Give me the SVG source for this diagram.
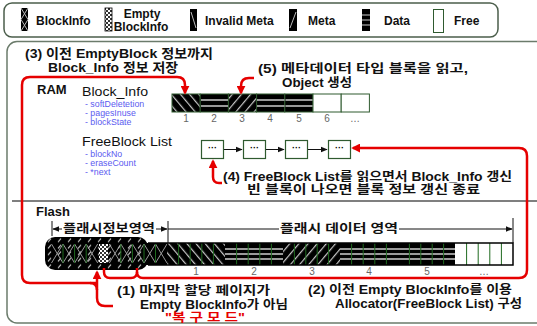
<svg xmlns="http://www.w3.org/2000/svg" width="537" height="326" viewBox="0 0 537 326">
<style>
text { font-family: "Liberation Sans", "Noto Sans CJK KR", sans-serif; }
.ann { font-size: 13px; font-weight: bold; fill: #111; }
.ann12 { font-size: 12px; font-weight: bold; fill: #111; }
.leg { font-size: 12px; font-weight: bold; fill: #111; }
.hd { font-size: 13px; font-weight: bold; fill: #111; }
.ttl { font-size: 13.5px; fill: #111; }
.sub { font-size: 8.8px; fill: #5b5bf0; }
.num { font-size: 10px; fill: #666; text-anchor: middle; }
.red { fill: none; stroke: #e60000; stroke-width: 2.5; }
.cell { stroke: #2f5a2f; stroke-width: 1; }
.pg { stroke: #1f6a1f; stroke-width: 1; }
.dl { stroke: #111; stroke-width: 1; fill: none; }
.box { fill: #fff; stroke: #2f5a2f; stroke-width: 1.2; }
</style>
<defs>
<marker id="ar" viewBox="0 0 10 10" refX="8" refY="5" markerWidth="3.6" markerHeight="3.6" orient="auto" markerUnits="strokeWidth">
<path d="M0,0 L10,5 L0,10 Z" fill="#e60000"/>
</marker>
<marker id="ab" viewBox="0 0 10 10" refX="9" refY="5" markerWidth="7" markerHeight="7" orient="auto" markerUnits="userSpaceOnUse">
<path d="M0,1 L10,5 L0,9 Z" fill="#111"/>
</marker>
<pattern id="pInv" width="7" height="7" patternUnits="userSpaceOnUse" patternTransform="rotate(-40)">
<rect width="7" height="7" fill="#000"/>
<rect x="0" width="1.2" height="7" fill="#c8c8c8"/>
</pattern>
<pattern id="pMeta" width="7" height="7" patternUnits="userSpaceOnUse" patternTransform="rotate(40)">
<rect width="7" height="7" fill="#000"/>
<rect x="0" width="1.2" height="7" fill="#c8c8c8"/>
</pattern>
<pattern id="pChk" width="4" height="4" patternUnits="userSpaceOnUse">
<rect width="4" height="4" fill="#fff"/>
<rect width="2" height="2" fill="#333"/>
<rect x="2" y="2" width="2" height="2" fill="#333"/>
</pattern>
<pattern id="pTick" width="10" height="6.5" patternUnits="userSpaceOnUse" x="45" y="237">
<rect width="10" height="6.5" fill="#000"/>
<line x1="3" y1="5" x2="6" y2="1.5" stroke="#ddd" stroke-width="1"/>
</pattern>
</defs>

<!-- legend -->
<g id="legend">
<rect x="4" y="3" width="494" height="34" rx="8" fill="#fff" stroke="#4b5e4b" stroke-width="1.5"/>
<g id="leg-blockinfo">
<rect x="21" y="8" width="7" height="23" fill="#000"/>
<path d="M21,8 L28,19.5 M28,8 L21,19.5 M21,19.5 L28,31 M28,19.5 L21,31" stroke="#bbb" stroke-width="1"/>
<text x="36" y="25" class="leg">BlockInfo</text>
</g>
<g id="leg-empty">
<rect x="105" y="8" width="7" height="23" fill="url(#pChk)" stroke="#000" stroke-width="0.8"/>
<text x="142" y="18" class="leg" text-anchor="middle">Empty</text>
<text x="141" y="31" class="leg" text-anchor="middle">BlockInfo</text>
</g>
<g id="leg-invalid">
<rect x="190" y="9" width="7" height="22" fill="#000"/>
<path d="M191,12 L196,28" stroke="#bbb" stroke-width="1"/>
<text x="205" y="25" class="leg">Invalid Meta</text>
</g>
<g id="leg-meta">
<rect x="289" y="9" width="8" height="22" fill="#000"/>
<path d="M296,12 L290,28" stroke="#bbb" stroke-width="1"/>
<text x="308" y="25" class="leg">Meta</text>
</g>
<g id="leg-data">
<rect x="362" y="9" width="8" height="22" fill="#000"/>
<path d="M362,15 H370 M362,20 H370 M362,25 H370" stroke="#ccc" stroke-width="1"/>
<text x="384" y="25" class="leg">Data</text>
</g>
<g id="leg-free">
<rect x="433.5" y="9.5" width="10" height="23" fill="#fff" stroke="#2f5a2f" stroke-width="1"/>
<text x="454" y="25" class="leg">Free</text>
</g>
</g>

<!-- main frame -->
<g id="frame">
<rect x="7" y="41.5" width="540" height="281.5" rx="10" fill="none" stroke="#6b7b6b" stroke-width="1.5"/>
<line x1="12" y1="201" x2="537" y2="201" stroke="#555" stroke-width="1.5"/>
</g>

<!-- RAM -->
<g id="ram">
<text x="37" y="94" class="hd">RAM</text>
</g>
<g id="block-info">
<text x="82" y="96" class="ttl" textLength="66" lengthAdjust="spacingAndGlyphs">Block_Info</text>
<text x="85" y="107" class="sub">- softDeletetion</text>
<text x="85" y="116" class="sub">- pagesInuse</text>
<text x="85" y="125" class="sub">- blockState</text>
<g id="bi-cells">
<rect x="172" y="94" width="28.2" height="18" fill="url(#pInv)" class="cell"/>
<rect x="200.2" y="94" width="28.2" height="18" fill="#000" class="cell"/>
<rect x="228.4" y="94" width="28.2" height="18" fill="url(#pMeta)" class="cell"/>
<rect x="256.6" y="94" width="28.2" height="18" fill="#000" class="cell"/>
<rect x="284.8" y="94" width="28.2" height="18" fill="#000" class="cell"/>
<rect x="313" y="94" width="28.2" height="18" fill="#fff" class="cell"/>
<rect x="341.2" y="94" width="28.2" height="18" fill="#fff" class="cell"/>
<path d="M201,100 H228 M201,106 H228 M257,100 H284.5 M257,106 H284.5 M285.5,100 H312.5 M285.5,106 H312.5" stroke="#ccc" stroke-width="1.3"/>
</g>
<g id="bi-nums">
<text x="186" y="122" class="num">1</text>
<text x="214" y="122" class="num">2</text>
<text x="242" y="122" class="num">3</text>
<text x="270" y="122" class="num">4</text>
<text x="299" y="122" class="num">5</text>
<text x="327" y="122" class="num">6</text>
<text x="355" y="122" class="num">…</text>
</g>
</g>

<g id="freeblock-list">
<text x="82" y="146" class="ttl" textLength="90" lengthAdjust="spacingAndGlyphs">FreeBlock List</text>
<text x="85" y="157" class="sub">- blockNo</text>
<text x="85" y="166" class="sub">- eraseCount</text>
<text x="85" y="175" class="sub">- *next</text>
</g>
<g id="fb1"><rect x="201.5" y="140.5" width="22" height="18" class="box"/><text x="212.5" y="151" font-size="9" font-weight="bold" text-anchor="middle">···</text></g>
<g id="fb2"><rect x="243.5" y="140.5" width="22" height="18" class="box"/><text x="254.5" y="151" font-size="9" font-weight="bold" text-anchor="middle">···</text></g>
<g id="fb3"><rect x="285.5" y="140.5" width="22" height="18" class="box"/><text x="296.5" y="151" font-size="9" font-weight="bold" text-anchor="middle">···</text></g>
<g id="fb4"><rect x="328.5" y="140.5" width="22" height="18" class="box"/><text x="339.5" y="151" font-size="9" font-weight="bold" text-anchor="middle">···</text></g>

<!-- Flash -->
<g id="flash">
<text x="36" y="216" class="hd">Flash</text>
<g id="flash-info-region">
<rect x="45" y="237" width="103" height="33" rx="10" fill="url(#pTick)"/>
<rect x="145" y="243" width="22" height="22" fill="#000"/>
<g stroke="#aaa" stroke-width="0.9">
<path d="M51.5,244 L63,263 M63,244 L51.5,263"/>
<path d="M63,244 L74.6,263 M74.6,244 L63,263"/>
<path d="M74.6,244 L86.2,263 M86.2,244 L74.6,263"/>
<path d="M86.2,244 L97.7,263 M97.7,244 L86.2,263"/>
<path d="M109.3,244 L120.8,263 M120.8,244 L109.3,263"/>
<path d="M120.8,244 L132.4,263 M132.4,244 L120.8,263"/>
<path d="M132.4,244 L144,263 M144,244 L132.4,263"/>
<path d="M144,244 L155.5,263 M155.5,244 L144,263"/>
<path d="M155.5,244 L167,263 M167,244 L155.5,263"/>
</g>
<rect x="99" y="244" width="9" height="19" fill="url(#pChk)"/>
<path d="M63,244 V263 M74.6,244 V263 M86.2,244 V263 M120.8,244 V263 M132.4,244 V263 M144,244 V263 M155.5,244 V263" class="pg"/>
</g>
<g id="flash-blocks">
<rect x="167" y="243" width="58" height="22" fill="url(#pInv)"/>
<rect x="225" y="243" width="58" height="22" fill="#000"/>
<rect x="283" y="243" width="57" height="22" fill="url(#pMeta)"/>
<rect x="340" y="243" width="58" height="22" fill="#000"/>
<rect x="398" y="243" width="57" height="22" fill="#000"/>
<rect x="455" y="243" width="58" height="22" fill="#fff"/>
<path d="M225,249 H283 M225,254 H283 M225,259 H283 M340,249 H455 M340,254 H455 M340,259 H455" stroke="#ccc" stroke-width="1.4"/>
<path d="M178.6,243 V265 M190.2,243 V265 M201.8,243 V265 M213.4,243 V265 M236.6,243 V265 M248.2,243 V265 M259.8,243 V265 M271.4,243 V265 M294.4,243 V265 M305.8,243 V265 M317.2,243 V265 M328.6,243 V265 M351.6,243 V265 M363.2,243 V265 M374.8,243 V265 M386.4,243 V265 M409.4,243 V265 M420.8,243 V265 M432.2,243 V265 M443.6,243 V265 M466.6,243 V265 M478.2,243 V265 M489.8,243 V265 M501.4,243 V265" class="pg"/>
<path d="M148,243 H513 V265 H148" fill="none" stroke="#000" stroke-width="1.5"/>
</g>
<g id="flash-nums">
<text x="196" y="275" class="num">1</text>
<text x="254" y="275" class="num">2</text>
<text x="312" y="275" class="num">3</text>
<text x="369" y="275" class="num">4</text>
<text x="427" y="275" class="num">5</text>
<text x="484" y="275" class="num">…</text>
</g>
<g id="dims">
<path d="M52,221 V236 M168,221 V243 M513,218 V243" class="dl"/>
<path d="M62,229 H53" class="dl" marker-end="url(#ab)"/>
<path d="M156,229 H167" class="dl" marker-end="url(#ab)"/>
<path d="M168,229 H279" class="dl"/>
<path d="M399,229 H512" class="dl" marker-end="url(#ab)"/>
<text x="109" y="233" class="ann12" text-anchor="middle" textLength="92" lengthAdjust="spacingAndGlyphs">플래시정보영역</text>
<text x="339" y="233" class="ann12" text-anchor="middle" textLength="118" lengthAdjust="spacingAndGlyphs">플래시 데이터 영역</text>
</g>
</g>

<!-- connectors -->
<g id="connectors">
<path d="M224,149.5 H242" stroke="#111" stroke-width="1" marker-end="url(#ab)"/>
<path d="M266,149.5 H284" stroke="#111" stroke-width="1" marker-end="url(#ab)"/>
<path d="M308,149.5 H327" stroke="#111" stroke-width="1" marker-end="url(#ab)"/>
<path d="M97,283 H30 Q22,283 22,275 V85 Q22,77 30,77 H177 Q185,77 185,85 V93" class="red" marker-end="url(#ar)"/>
<path d="M113,306 H105 Q97,306 97,298 V272" class="red" marker-end="url(#ar)"/>
<path d="M97,290 Q97,283 90,283" class="red"/>
<path d="M254,78 H249 Q241,78 241,86 V93" class="red" marker-end="url(#ar)"/>
<path d="M222,183 H219 Q213,183 213,177 V161" class="red" marker-end="url(#ar)"/>
<path d="M104,268 V272 Q104,278 110,278 H131 Q137,278 137,272 V268" class="red"/>
<path d="M137,272 Q137,278 143,278 H519 Q527,278 527,270 V156 Q527,148 519,148 H353" class="red" marker-end="url(#ar)"/>
</g>

<!-- annotations -->
<g id="note3">
<text x="25" y="58" class="ann" textLength="188" lengthAdjust="spacingAndGlyphs">(3) 이전 EmptyBlock 정보까지</text>
<text x="48" y="72" class="ann" textLength="130" lengthAdjust="spacingAndGlyphs">Block_Info 정보 저장</text>
</g>
<g id="note5">
<text x="258" y="73" class="ann12" textLength="210" lengthAdjust="spacingAndGlyphs">(5) 메타데이터 타입 블록을 읽고,</text>
<text x="282" y="87" class="ann12" textLength="70" lengthAdjust="spacingAndGlyphs">Object 생성</text>
</g>
<g id="note4">
<text x="223" y="181" class="ann12" textLength="289" lengthAdjust="spacingAndGlyphs">(4) FreeBlock List를 읽으면서 Block_Info 갱신</text>
<text x="247" y="194" class="ann12" textLength="233" lengthAdjust="spacingAndGlyphs">빈 블록이 나오면 블록 정보 갱신 종료</text>
</g>
<g id="note1">
<text x="117" y="295" class="ann12" textLength="153" lengthAdjust="spacingAndGlyphs">(1) 마지막 할당 페이지가</text>
<text x="140" y="309" class="ann12" textLength="148" lengthAdjust="spacingAndGlyphs">Empty BlockInfo가 아님</text>
<text x="165" y="322" class="ann12" style="fill:#e60000" textLength="80" lengthAdjust="spacingAndGlyphs">"복 구 모 드"</text>
</g>
<g id="note2">
<text x="308" y="294" class="ann12" textLength="204" lengthAdjust="spacingAndGlyphs">(2) 이전 Empty BlockInfo를 이용</text>
<text x="335" y="308" class="ann12" textLength="187" lengthAdjust="spacingAndGlyphs">Allocator(FreeBlock List) 구성</text>
</g>
</svg>
